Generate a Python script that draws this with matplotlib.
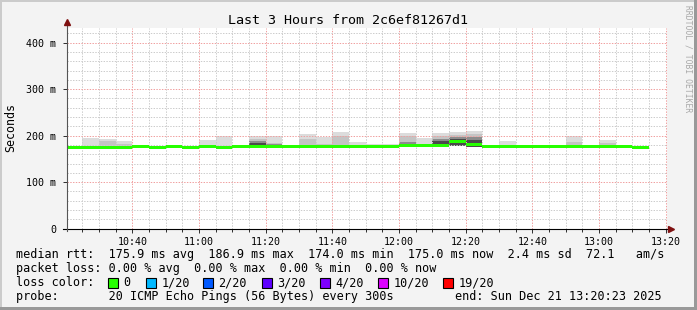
import matplotlib
matplotlib.use("Agg")
import matplotlib.pyplot as plt
import numpy as np
from matplotlib.patches import Rectangle

# --- data (ms), one value per 5 minute step ---
# step edges in minutes after 10:00 (first step starts at 10:20:23)
step_edges = [20 + 23 / 60] + list(range(25, 196, 5))

median_ms = [174.5, 174.5, 174.5, 174.5, 176, 173.5, 176, 173.5, 176, 173.5,
             176, 177, 176, 176, 177, 177, 177, 177.5, 177, 177,
             178.6, 178, 179.5, 186.9, 181, 176, 176, 176, 176, 176,
             176, 176, 176, 176, 175]

ping_min = [172.5, 172.5, 172.5, 172.5, 174, 171.5, 174, 171.5, 174, 171.5,
            174, 175, 174, 174, 175, 175, 175, 175.5, 175, 175,
            176.5, 176, 176, 178, 176, 174, 174, 174, 174, 174,
            174, 174, 174, 174, 173]

nan = np.nan
# smoke layers, outer (light) to inner (dark)
smoke_1 = [nan, 194, 192, 189, nan, nan, nan, nan, 190, 200,
           nan, 199, 199, nan, 203, 197, 207, 186, 181, 181,
           205, 195, 205, 207.5, 210, nan, 188, nan, nan, nan,
           199, nan, 191.5, nan, nan]
smoke_2 = [nan, nan, 189, 181, nan, nan, nan, nan, nan, nan,
           nan, 193, 183.6, nan, 192, 181, 200, nan, nan, nan,
           199, 181, 199, 202, 204, nan, nan, nan, nan, nan,
           186, nan, 185, nan, nan]
smoke_3 = [nan] * 11 + [189, 181] + [nan] * 7 + [186, nan, 193, 197, 197] + [nan] * 10
smoke_4 = [nan] * 11 + [184] + [nan] * 10 + [187.5, 192, 191] + [nan] * 10

x_ticks = [40, 60, 80, 100, 120, 140, 160, 180, 200]
x_labels = ["10:40", "11:00", "11:20", "11:40", "12:00", "12:20", "12:40", "13:00", "13:20"]
y_ticks = [0, 100, 200, 300, 400]
y_labels = ["0", "100 m", "200 m", "300 m", "400 m"]

loss_labels = ["0", "1/20", "2/20", "3/20", "4/20", "10/20", "19/20"]
loss_colors = ["#26ff00", "#00b8ff", "#0059ff", "#5e00ff", "#7e00ff", "#dd00ff", "#ff0000"]

W, H = 697, 310
plt.rcParams["font.family"] = "DejaVu Sans Mono"
plt.rcParams["lines.scale_dashes"] = False

fig = plt.figure(figsize=(W / 100, H / 100), dpi=100, facecolor="#f3f3f3")
ax = fig.add_axes([67 / W, (H - 228.7) / H, 600 / W, 201 / H])
ax.set_facecolor("white")

edges = np.array(step_edges)
left = edges[:-1]
width = np.diff(edges)
bottom = np.array(ping_min)

# smoke, light first
for layer, col in zip([smoke_1, smoke_2, smoke_3, smoke_4],
                      ["#dcdcdc", "#c4c4c4", "#8c8c8c", "#4a4a4a"]):
    top = np.array(layer)
    ok = ~np.isnan(top)
    ax.bar(left[ok], top[ok] - bottom[ok], width=width[ok], bottom=bottom[ok],
           align="edge", color=col, linewidth=0, zorder=1)

# median line (3 px thick)
med = np.array(median_ms)
ax.bar(left, 6.4, width=width, bottom=med - 3.2, align="edge",
       color=loss_colors[0], linewidth=0, zorder=3)

ax.set_xlim(20 + 23 / 60, 200 + 23 / 60)
ax.set_ylim(0, 432)

ax.set_xticks(x_ticks)
ax.set_xticklabels(x_labels)
ax.set_xticks(np.arange(25, 200, 5), minor=True)
ax.set_yticks(y_ticks)
ax.set_yticklabels(y_labels)
ax.set_yticks(np.arange(20, 432, 20), minor=True)

ax.grid(which="minor", color="#cccccc", linestyle=(0, (1, 1)), linewidth=0.72)
ax.grid(which="major", color="#f0a0a0", linestyle=(0, (1, 1)), linewidth=0.72)
ax.set_axisbelow(False)

for s in ax.spines.values():
    s.set_visible(False)
ax.tick_params(which="major", length=3, width=0.72, color="#333333", labelsize=7.2, pad=3)
ax.tick_params(which="minor", length=2, width=0.72, color="#333333")
ax.tick_params(axis="y", which="minor", length=0)
ax.tick_params(axis="y", pad=5)

# axis lines with arrows
ax.plot([-0.007, 1.005], [0, 0], transform=ax.transAxes, color="black",
        lw=0.8, clip_on=False, zorder=5)
ax.plot([0, 0], [-0.012, 1.026], transform=ax.transAxes, color="#555555",
        lw=0.8, clip_on=False, zorder=5)
ax.plot([1.007], [0], transform=ax.transAxes, marker=">", ms=4.5,
        color="#7f1010", clip_on=False, zorder=6)
ax.plot([0], [1.028], transform=ax.transAxes, marker="^", ms=4.5,
        color="#7f1010", clip_on=False, zorder=6)

# text
fig.text(348 / W, 1 - 20 / H, "Last 3 Hours from 2c6ef81267d1",
         ha="center", va="center", fontsize=9.6)
fig.text(10.5 / W, 1 - 128 / H, "Seconds", rotation=90,
         ha="center", va="center", fontsize=8.4)
fig.text(688 / W, 1 - 5 / H, "RRDTOOL / TOBI OETIKER", rotation=270,
         ha="center", va="top", fontsize=5.8, color="#a8a8a8")

fs = 8.5
fig.text(16 / W, 1 - 254.5 / H,
         "median rtt:  175.9 ms avg  186.9 ms max  174.0 ms min  175.0 ms now  2.4 ms sd  72.1   am/s",
         ha="left", va="center", fontsize=fs)
fig.text(16 / W, 1 - 268.5 / H,
         "packet loss: 0.00 % avg  0.00 % max  0.00 % min  0.00 % now",
         ha="left", va="center", fontsize=fs)
fig.text(16 / W, 1 - 282.5 / H, "loss color:", ha="left", va="center", fontsize=fs)
sq_x = [108, 146, 203, 262, 320, 378, 443]
for xs, lab, col in zip(sq_x, loss_labels, loss_colors):
    fig.add_artist(Rectangle((xs / W, 1 - 287.5 / H), 10 / W, 10 / H,
                             transform=fig.transFigure, facecolor=col,
                             edgecolor="black", linewidth=0.8))
    fig.text((xs + 15.5) / W, 1 - 282.5 / H, lab, ha="left", va="center", fontsize=fs)
fig.text(16 / W, 1 - 296.5 / H,
         "probe:       20 ICMP Echo Pings (56 Bytes) every 300s",
         ha="left", va="center", fontsize=fs)
fig.text(662 / W, 1 - 296.5 / H, "end: Sun Dec 21 13:20:23 2025",
         ha="right", va="center", fontsize=fs)

# frame shading
fig.add_artist(Rectangle((0, 1 - 2 / H), 1, 2 / H, transform=fig.transFigure,
                         facecolor="#cbcbcb", linewidth=0))
fig.add_artist(Rectangle((0, 0), 2 / W, 1, transform=fig.transFigure,
                         facecolor="#cbcbcb", linewidth=0))
fig.add_artist(Rectangle((0, 0), 1, 3 / H, transform=fig.transFigure,
                         facecolor="#999999", linewidth=0))
fig.add_artist(Rectangle((1 - 3 / W, 0), 3 / W, 1, transform=fig.transFigure,
                         facecolor="#999999", linewidth=0))

fig.savefig("out.png", dpi=100, facecolor=fig.get_facecolor())
